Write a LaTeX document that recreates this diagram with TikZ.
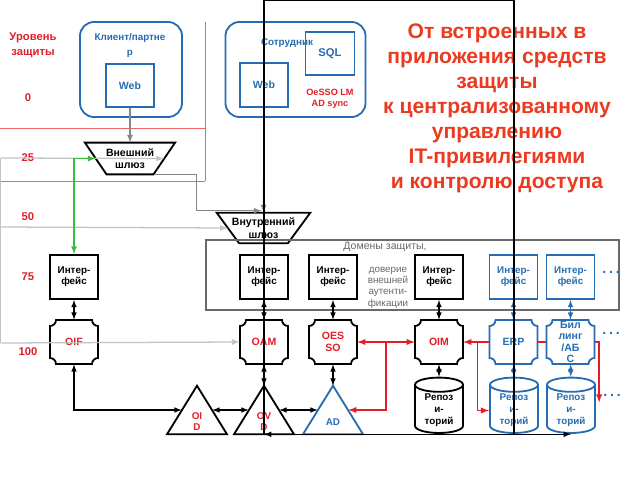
\documentclass[tikz,border=0pt]{standalone}
\usepackage{fontspec}
\setmainfont{Liberation Sans}
\usepackage{tikz}
\usetikzlibrary{shapes.geometric,calc}

\definecolor{lvlred}{RGB}{226,28,40}
\definecolor{linered}{RGB}{238,100,100}
\definecolor{headred}{RGB}{236,58,32}
\definecolor{sysblue}{RGB}{38,108,178}
\definecolor{flowgray}{RGB}{135,135,135}
\definecolor{palegray}{RGB}{195,195,195}
\definecolor{domgray}{RGB}{105,105,105}
\definecolor{passgreen}{RGB}{60,190,60}

\tikzset{
  box/.style={rectangle, draw=#1, text=#1, line width=1.3pt, minimum width=1.2cm, minimum height=1.1cm, align=center, font=\bfseries\fontsize{7}{8}\selectfont},
  hub/.style={rectangle, text=#1, minimum width=1.2cm, minimum height=1.1cm, inner ysep=0pt, align=center, font=\bfseries\fontsize{7.5}{8.2}\selectfont},
  store/.style={cylinder, shape border rotate=90, aspect=0.45, draw=#1, text=#1, line width=1.3pt, minimum width=1.2cm, minimum height=1.27cm, inner sep=1pt, align=center, font=\bfseries\fontsize{7}{8.5}\selectfont},
  tri/.style={rectangle, minimum width=0.75cm, minimum height=1.2cm, inner sep=0pt},
  tritext/.style={align=center, yshift=-0.3cm, font=\bfseries\fontsize{7}{7.8}\selectfont},
  gate/.style={rectangle, inner sep=0pt, align=center, font=\bfseries\fontsize{7.5}{9}\selectfont},
  zone/.style={rectangle, rounded corners=0.35cm, draw=sysblue, line width=1.3pt},
  lvl/.style={text=lvlred, font=\bfseries\fontsize{8}{10.5}\selectfont, align=center},
  link/.style={<->, line width=0.8pt},
}

\begin{document}
\begin{tikzpicture}[x=0.025cm, y=-0.025cm, >=latex]
\useasboundingbox (0,0) rectangle (640,480);

% protection levels
\draw[linered, line width=0.6pt] (0,128) -- (205,128) (0,181) -- (205,181) (205,22) -- (205,181);
\node[lvl] (lvlhead) at (33,45) {Уровень\\защиты};
\foreach \y/\v in {98/0, 158/25, 217/50, 277/75, 352/100}
  \node[lvl] (lvl\v) at (28,\y) {\v};

% users
\node[zone, minimum width=2.55cm, minimum height=2.375cm] (cli) at (131,69.5) {};
\node[text=sysblue, font=\bfseries\fontsize{7}{10.5}\selectfont, align=center] (clitxt) at (130,45.5) {Клиент/партне\\р};
\node[box=sysblue, minimum height=1.075cm, font=\bfseries\fontsize{7.5}{9}\selectfont] (cliweb) at (130,85.5) {Web};
\node[zone, minimum width=3.5cm, minimum height=2.375cm] (staff) at (295.5,69.5) {};
\node[box=sysblue, minimum width=1.225cm, minimum height=1.075cm, font=\bfseries\fontsize{8}{9}\selectfont] (sql) at (330,53.5) {SQL};
\node[text=sysblue, font=\bfseries\fontsize{7}{8}\selectfont] (stafftxt) at (287,43) {Сотрудник};
\node[box=sysblue, font=\bfseries\fontsize{7.5}{9}\selectfont] (stweb) at (264,85) {Web};
\node[text=lvlred, font=\bfseries\fontsize{6.5}{7.8}\selectfont, align=center] (sync) at (330,98.5) {OeSSO LM\\AD sync};

\node[text=headred, font=\bfseries\fontsize{15}{17.8}\selectfont, align=center] (head) at (497,108) {От встроенных в\\приложения средств\\защиты\\к централизованному\\управлению\\IT-привилегиями\\и контролю доступа};

% gateways
\node[gate, minimum width=1.7cm, minimum height=0.78cm] (extgw) at (130,158.5) {Внешний\\шлюз};
\node[gate, minimum width=1.765cm, minimum height=0.75cm] (intgw) at (263.5,228) {Внутренний\\шлюз};
\foreach \n/\d in {extgw/0.27, intgw/0.28}
  \draw[line width=1.3pt] ($(\n.north west)+(-\d cm,0)$) -- ($(\n.north east)+(\d cm,0)$)
    -- ($(\n.south east)+(-\d cm,0)$) -- ($(\n.south west)+(\d cm,0)$) -- cycle;

% domains
\node[rectangle, draw=domgray, line width=0.8pt, minimum width=10.325cm, minimum height=1.75cm] (dom) at (412.5,275) {};
\node[text=domgray, font=\fontsize{7.5}{9}\selectfont] (domtxt) at (385,247) {Домены защиты,};
\node[text=domgray, font=\fontsize{7}{8.1}\selectfont, align=center] (trust) at (388,287.5) {доверие\\внешней\\аутенти-\\фикации};

\node[box=black] (ifc1) at (74,277) {Интер-\\фейс};
\node[box=black] (ifc2) at (264,277) {Интер-\\фейс};
\node[box=black] (ifc3) at (333,277) {Интер-\\фейс};
\node[box=black] (ifc4) at (439,277) {Интер-\\фейс};
\node[box=sysblue] (ifc5) at (513.5,277) {Интер-\\фейс};
\node[box=sysblue] (ifc6) at (570.5,277) {Интер-\\фейс};

\node[hub=lvlred] (oif) at (74,342) {OIF};
\node[hub=lvlred] (oam) at (264,342) {OAM};
\node[hub=lvlred] (oesso) at (333,342) {OES\\SO};
\node[hub=lvlred] (oim) at (439,342) {OIM};
\node[hub=sysblue] (erp) at (513.5,342) {ERP};
\node[hub=sysblue] (bill) at (570.5,342) {Бил\\линг\\/АБ\\С};
\foreach \n/\col in {oif/black, oam/black, oesso/black, oim/black, erp/sysblue, bill/sysblue}
  \draw[\col, line width=1.3pt] ($(\n)+(-0.45cm,0.55cm)$) -- ($(\n)+(0.45cm,0.55cm)$)
    arc[start angle=180, end angle=270, radius=0.15cm] -- ($(\n)+(0.6cm,-0.4cm)$)
    arc[start angle=90, end angle=180, radius=0.15cm] -- ($(\n)+(-0.45cm,-0.55cm)$)
    arc[start angle=0, end angle=90, radius=0.15cm] -- ($(\n)+(-0.6cm,0.4cm)$)
    arc[start angle=270, end angle=360, radius=0.15cm] -- cycle;

\node[tri, label={[tritext, text=lvlred]center:OI\\D}] (oid) at (197,410) {};
\node[tri, label={[tritext, text=lvlred]center:OV\\D}] (ovd) at (264,410) {};
\node[tri, label={[tritext, text=sysblue]center:AD}] (ad) at (333,410) {};
\foreach \n/\col in {oid/black, ovd/black, ad/sysblue}
  \draw[\col, line width=1.3pt] (\n.north) -- ($(\n.south)+(-0.75cm,0)$) -- ($(\n.south)+(0.75cm,0)$) -- cycle;

\node[store=black] (repo) at (439,410.5) {Репоз\\и-\\торий};
\node[store=sysblue] (repoerp) at (514,410.5) {Репоз\\и-\\торий};
\node[store=sysblue] (repobill) at (571,410.5) {Репоз\\и-\\торий};

\node[text=sysblue, font=\bfseries\fontsize{10}{10}\selectfont] (more1) at (611,272) {.\hspace{2pt}.\hspace{2pt}.};
\node[text=sysblue, font=\bfseries\fontsize{10}{10}\selectfont] (more2) at (611,333) {.\hspace{2pt}.\hspace{2pt}.};
\node[text=sysblue, font=\bfseries\fontsize{10}{10}\selectfont] (more3) at (612,395) {.\hspace{2pt}.\hspace{2pt}.};

% gray flows
\coordinate (g25) at (0.5,158);
\coordinate (g50) at (0.5,227);
\coordinate (g100) at (0.5,343);
\coordinate (gin) at ($(extgw.center)+(0.85cm,0)$);
\coordinate (extout) at ($(extgw.south east)+(-0.25cm,0)$);
\coordinate (intin) at ($(intgw.north)+(-0.05cm,0.05cm)$);
\draw[->, flowgray, line width=0.9pt] (cliweb) -- (extgw.north);
\draw[->, flowgray, line width=0.9pt] (stweb) -- (intgw.north);
\draw[->, flowgray, line width=0.9pt] (extout) -- ++(1.05cm,0) |- (intin);
\draw[->, palegray, line width=0.9pt] (g25) -- (gin);
\draw[palegray, line width=0.9pt] (g25) -- (g100);
\draw[->, palegray, line width=0.9pt] (g50) -- (intgw.west);
\draw[->, palegray, line width=0.9pt] (g100) -- (oam.west);
\draw[<->, passgreen, line width=0.9pt] (extgw.west) -| (ifc1);

% red flows
\coordinate (rj1) at ($(oesso.east)!0.5!(oim.west)$);
\coordinate (rj2) at ($(oim.east)!0.54!(erp.west)$);
\coordinate (rbill) at ($(repobill.east)+(0.08cm,0.2cm)$);
\draw[<->, lvlred, line width=1pt] (oesso) -- (oim);
\draw[->, lvlred, line width=1pt] (rj1) |- (ad.east);
\draw[->, lvlred, line width=1pt] (erp) -- (oim);
\draw[->, lvlred, line width=1pt] (rj2) |- (repoerp.west);
\draw[lvlred, line width=1pt] (erp) -- (bill);
\draw[->, lvlred, line width=1pt] (bill.east) -| (rbill);

% links
\draw[link] (ifc1) -- (oif);
\draw[link] (ifc2) -- (oam);
\draw[link] (ifc3) -- (oesso);
\draw[link] (ifc4) -- (oim);
\draw[link, sysblue] (ifc5) -- (erp);
\draw[link, sysblue] (ifc6) -- (bill);
\draw[link] (oam) -- (ovd.north);
\draw[link] (oesso) -- (ad.north);
\draw[link] (oim) -- (repo);
\draw[link, sysblue] (erp) -- (repoerp);
\draw[link, sysblue] (bill) -- (repobill);
\draw[link] (oif.south) |- (oid.west);
\draw[link] (oid.east) -- (ovd.west);
\draw[link] (ovd.east) -- (ad.west);
\draw[link] (ovd.south) -- (ovd.south -| repobill);

% overlay frame
\coordinate (topedge) at (0,0.6);
\draw[line width=1pt] (ovd.south) -- (ovd.south |- topedge) -| (repoerp.south);
\end{tikzpicture}
\end{document}
